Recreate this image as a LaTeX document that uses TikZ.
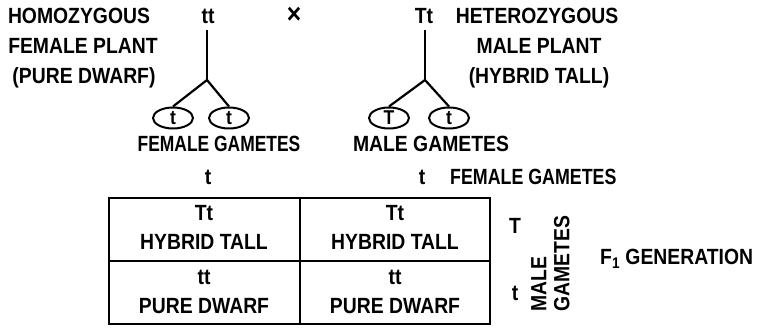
\documentclass[tikz,border=0pt]{standalone}
\usepackage{fontspec}
\usepackage{graphicx}
\setmainfont[FakeStretch=0.88]{Liberation Sans}
\usetikzlibrary{shapes.geometric}
\begin{document}
\begin{tikzpicture}[x=1pt,y=-1pt,
  lbl/.style={font=\fontsize{22}{24}\selectfont\bfseries, inner sep=0pt},
  gam/.style={draw, ellipse, line width=2pt, minimum width=40pt, minimum height=21pt, inner sep=0pt, font=\fontsize{20}{20}\selectfont\bfseries},
  br/.style={line width=2.2pt},
  grid/.style={line width=2pt}]
\useasboundingbox (0,0) rectangle (760,328);
% left parent
\node[lbl] (hom) at (79,16) {HOMOZYGOUS};
\node[lbl] (fp) at (83,46) {FEMALE PLANT};
\node[lbl] (pd) at (84,78) {(PURE DWARF)};
\node[lbl] (ftt) at (208,16) {tt};
\node[lbl, font=\fontsize{28}{28}\selectfont\bfseries] (cross) at (294,15) {×};
\coordinate (lj) at (207,80);
\node[gam] (lg1) at (173,118) {t};
\node[gam] (lg2) at (229,118) {t};
\draw[br] (207,30) -- (lj);
\draw[br] (lj) -- (lg1.north);
\draw[br] (lj) -- (lg2.north);
\node[lbl] (fg) at (219,144) {\scalebox{0.9}[1]{FEMALE GAMETES}};
% right parent
\node[lbl] (mtt) at (424,16) {Tt};
\node[lbl] (het) at (537,16) {HETEROZYGOUS};
\node[lbl] (mp) at (539,46) {MALE PLANT};
\node[lbl] (ht) at (539,78) {(HYBRID TALL)};
\coordinate (rj) at (425,80);
\node[gam] (rg1) at (389,118) {T};
\node[gam] (rg2) at (449,118) {t};
\draw[br] (425,30) -- (rj);
\draw[br] (rj) -- (rg1.north);
\draw[br] (rj) -- (rg2.north);
\node[lbl] (mg) at (431,144) {MALE GAMETES};
% gamete headers
\node[lbl] (h1) at (208,177) {t};
\node[lbl] (h2) at (422,177) {t};
\node[lbl,anchor=west] (fg2) at (450,177) {\scalebox{0.92}[1]{FEMALE GAMETES}};
% table
\draw[grid] (109,198) rectangle (490,324);
\draw[grid] (109,261) -- (490,261);
\draw[grid] (300,198) -- (300,324);
\node[lbl] (c11a) at (204,213) {Tt};
\node[lbl] (c11b) at (204,242) {HYBRID TALL};
\node[lbl] (c12a) at (395,213) {Tt};
\node[lbl] (c12b) at (395,242) {HYBRID TALL};
\node[lbl] (c21a) at (204,277) {tt};
\node[lbl] (c21b) at (204,306) {PURE DWARF};
\node[lbl] (c22a) at (395,277) {tt};
\node[lbl] (c22b) at (395,306) {PURE DWARF};
% male gametes side
\node[lbl] (sT) at (515,226) {T};
\node[lbl] (st) at (515,293) {t};
\node[lbl, rotate=90, align=left, anchor=north west, font=\fontsize{22}{23}\selectfont\bfseries] (mgs) at (531,312) {MALE\\GAMETES};
\node[lbl, anchor=west] (f1) at (600,259) {F\textsubscript{1} GENERATION};
\end{tikzpicture}
\end{document}
